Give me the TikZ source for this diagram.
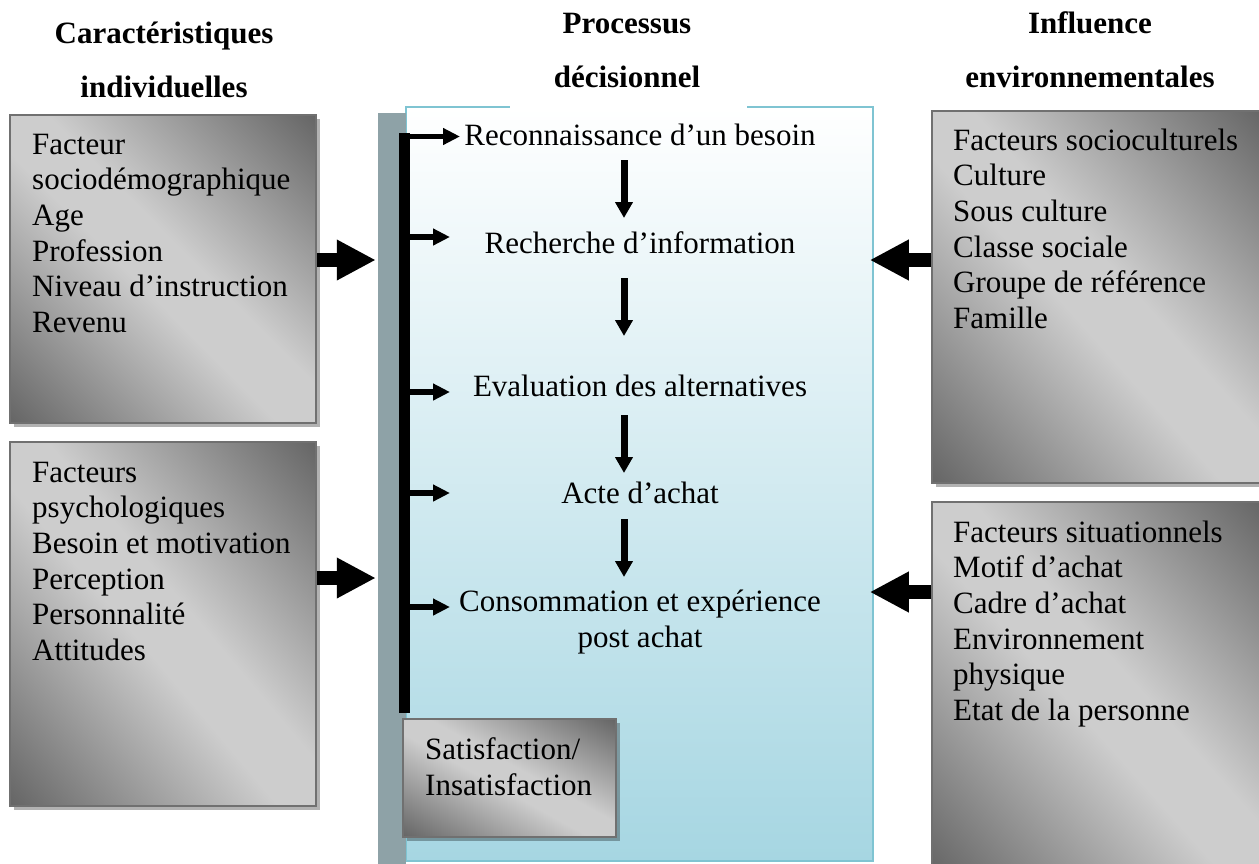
\documentclass[tikz,border=0pt]{standalone}
\usepackage{fontspec}
\setmainfont{Liberation Serif}
\usetikzlibrary{arrows.meta,shadows}

\definecolor{boxline}{HTML}{707070}
\definecolor{procline}{HTML}{7FC4D2}
\definecolor{procbottom}{HTML}{A6D6E2}
\definecolor{stripgrey}{HTML}{8EA2A7}

% grey band: dark top-right and bottom-left corners, light along the other diagonal
\pgfdeclarefunctionalshading{greyband}{\pgfpoint{0bp}{0bp}}{\pgfpoint{100bp}{100bp}}{}{
  25 sub 50 div exch 25 sub 50 div add 1 sub abs
  0.12 sub 0.88 div
  dup 0 lt {pop 0} if
  dup 1 gt {pop 1} if
  -0.41 mul 0.805 add
  dup dup
}

\newcommand\bodysize{\fontsize{31}{35.7}\selectfont}
\newcommand\titlesize{\fontsize{31}{54}\selectfont\bfseries}

\tikzset{
  greybox/.style={rectangle, draw=boxline, line width=1.5pt, inner sep=0pt,
    shading=greyband,
    drop shadow={shadow xshift=4pt, shadow yshift=-4pt, fill=black, opacity=0.3}},
  procbox/.style={rectangle, draw=procline, line width=1.5pt, inner sep=0pt,
    top color=white, bottom color=procbottom},
  % multi-line nodes: the base anchor sits on the last line
  listtext/.style={anchor=base west, align=left, inner sep=0pt, font=\bodysize},
  steptext/.style={anchor=base, align=center, inner sep=0pt, font=\bodysize},
  titletext/.style={anchor=base, align=center, inner sep=0pt, font=\titlesize},
  bigarrow/.style={line width=14pt, -{Triangle[length=39pt,width=38pt]}},
  steparrow/.style={line width=7pt, -{Triangle[length=16pt,width=17pt]}},
  spinearrow/.style={line width=5.5pt, -{Triangle[length=17pt,width=16pt]}},
}

\begin{document}
\begin{tikzpicture}[x=1pt,y=-1pt]
\useasboundingbox (0,0) rectangle (1259,863);
\clip (0,0) rectangle (1259,863);
\fill[white] (0,0) rectangle (1259,863);

% titles
\node[titletext] (ttlind) at (164,97) {Caractéristiques\\individuelles};
\node[titletext] (ttlenv) at (1090,87) {Influence\\environnementales};

% decision process panel
\node[procbox, minimum width=467pt, minimum height=754pt] (proc) at (639.5,484) {};
\fill[white] (510,0) rectangle (747,108.2);
\node[titletext] (ttlproc) at (627,87) {Processus\\décisionnel};
\node[fill=stripgrey, inner sep=0pt, minimum width=28pt, minimum height=752pt] (strip) at (392,489) {};
\node[fill=black, inner sep=0pt, minimum width=11pt, minimum height=580pt] (spine) at (404,423) {};

% factor boxes
\node[greybox, minimum width=306pt, minimum height=308pt] (box1) at (163,269) {};
\node[greybox, minimum width=306pt, minimum height=364pt] (box2) at (163,624) {};
\node[greybox, minimum width=332pt, minimum height=372pt] (rbox1) at (1098,297) {};
\node[greybox, minimum width=332pt, minimum height=372pt] (rbox2) at (1098,688) {};
\node[greybox, minimum width=213pt, minimum height=118pt] (sat) at (509.5,778) {};

\node[listtext] (txt1) at (32,332.5) {Facteur\\sociodémographique\\Age\\Profession\\Niveau d’instruction\\Revenu};
\node[listtext] (txt2) at (32,660.5) {Facteurs\\psychologiques\\Besoin et motivation\\Perception\\Personnalité\\Attitudes};
\node[listtext] (txt3) at (953,328.5) {Facteurs socioculturels\\Culture\\Sous culture\\Classe sociale\\Groupe de référence\\Famille};
\node[listtext] (txt4) at (953,720.5) {Facteurs situationnels\\Motif d’achat\\Cadre d’achat\\Environnement\\physique\\Etat de la personne};
\node[listtext] (sattxt) at (425,795) {Satisfaction/\\Insatisfaction};

% process steps
\node[steptext] (rec) at (640,145) {Reconnaissance d’un besoin};
\node[steptext] (srch) at (640,253) {Recherche d’information};
\node[steptext] (eval) at (640,396) {Evaluation des alternatives};
\node[steptext] (acte) at (640,503) {Acte d’achat};
\node[steptext] (cons) at (640,647) {Consommation et expérience\\post achat};

% step-to-step arrows
\coordinate (ax) at (624,0);
\draw[steparrow, shorten <=15pt, shorten >=35pt] (ax |- rec.base) -- (ax |- srch.base);
\draw[steparrow, shorten <=25pt, shorten >=60pt] (ax |- srch.base) -- (ax |- eval.base);
\draw[steparrow, shorten <=19pt, shorten >=30pt] (ax |- eval.base) -- (ax |- acte.base);
\draw[steparrow, shorten <=16pt, shorten >=70pt] (ax |- acte.base) -- (ax |- cons.base);

% feedback spine arrows
\coordinate (in1) at (460,136.5);
\coordinate (in2) at (450,237);
\coordinate (in3) at (450,392);
\coordinate (in4) at (450,493);
\coordinate (in5) at (450,607);
\foreach \p in {in1,in2,in3,in4,in5}
  \draw[spinearrow] (spine.east |- \p) -- (\p);

% influence arrows
\coordinate (ba1) at (0,260);
\coordinate (ba2) at (0,578);
\coordinate (ba3) at (0,592);
\draw[bigarrow, shorten >=2pt] (box1.east |- ba1) -- (strip.west |- ba1);
\draw[bigarrow, shorten >=2pt] (box2.east |- ba2) -- (strip.west |- ba2);
\draw[bigarrow, shorten >=-4pt] (rbox1.west |- ba1) -- (proc.east |- ba1);
\draw[bigarrow, shorten >=-4pt] (rbox2.west |- ba3) -- (proc.east |- ba3);
\end{tikzpicture}
\end{document}
